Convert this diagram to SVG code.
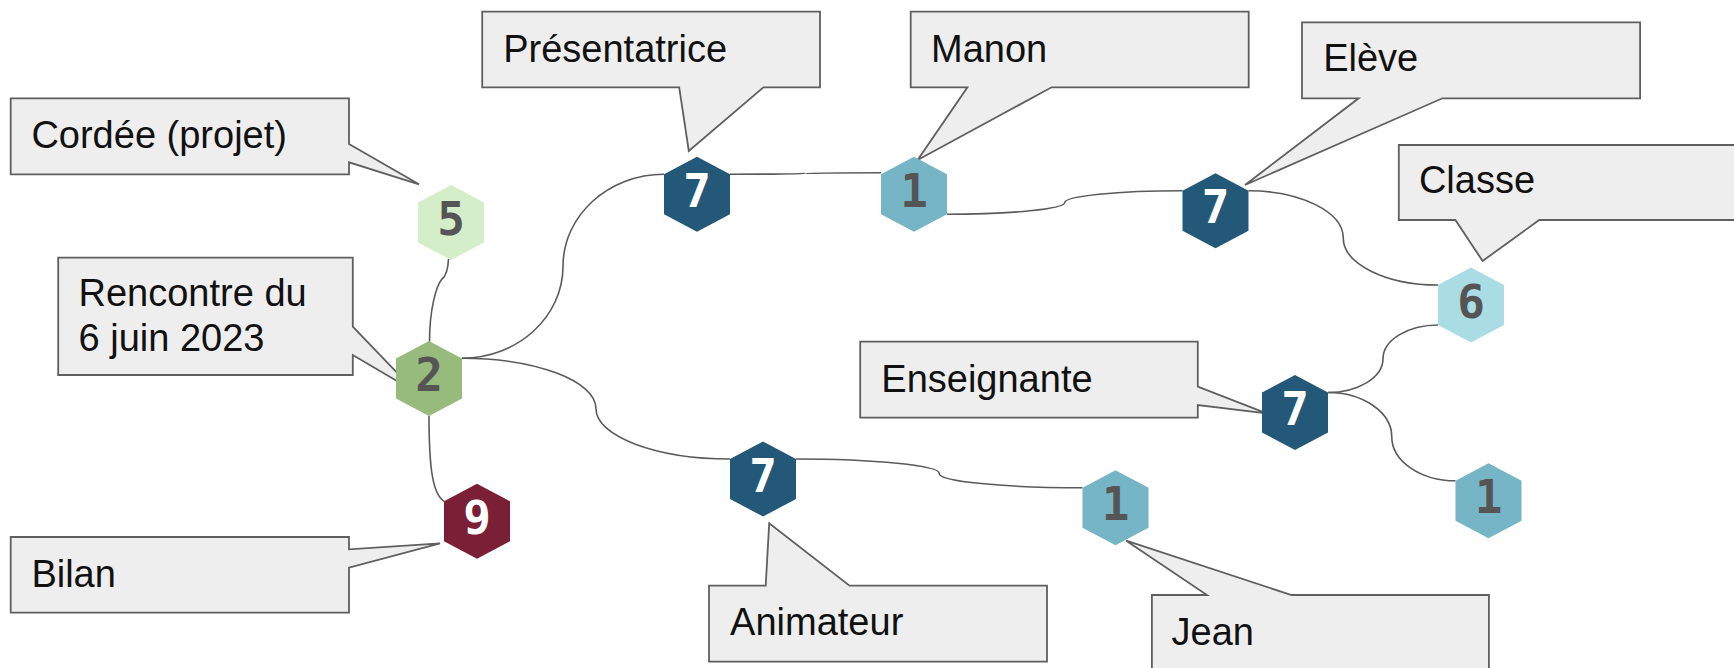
<svg xmlns="http://www.w3.org/2000/svg" xmlns:xlink="http://www.w3.org/1999/xlink" width="1734" height="668" viewBox="0 0 1734 668">
<style>
.callout{fill:#eeeeee;stroke:#5f5f5f;stroke-width:1.8;stroke-linejoin:miter}
.lbl{font-family:"Liberation Sans",Arial,sans-serif;font-size:38px;fill:#111111}
.conn{fill:none;stroke:#5a5a5a;stroke-width:1.6}
.num{font-family:"DejaVu Sans Mono","Liberation Mono",monospace;font-weight:bold;font-size:46px;text-anchor:middle}
.dk{fill:#ffffff}
.lt{fill:#555555}
</style>
<defs>
<polygon id="hex" points="0,-37.5 33,-20 33,20 0,37.5 -33,20 -33,-20"/>
</defs>
<rect width="1734" height="668" fill="#ffffff"/>

<g id="connectors">
<path class="conn" d="M448.5,259 C448,270 446,276 442,279 C436,286 429.5,310 429.5,342"/>
<path class="conn" d="M462,358.3 C517.6,358.3 563,316.9 563,266.3 C563,215.6 608.4,174.2 664,174.2"/>
<path class="conn" d="M462,358.3 C535.7,358.3 596,381 596,408.7 C596,436.3 656.3,459 730,459"/>
<path class="conn" d="M429,415.8 C429,470 433,494 444,501.3"/>
<path class="conn" d="M730,174.2 C771.5,174.2 805.5,173.9 805.5,173.45 C805.5,173 839.5,172.7 881,172.7"/>
<path class="conn" d="M947,214.2 C1011.8,214.2 1064.75,208.9 1064.75,202.5 C1064.75,196.1 1117.7,190.8 1182.5,190.8"/>
<path class="conn" d="M1248.5,190.8 C1300.6,190.8 1343.25,212 1343.25,237.9 C1343.25,263.8 1385.9,285 1438,285"/>
<path class="conn" d="M1438,325 C1407.75,325 1383,340.2 1383,358.75 C1383,377.3 1358.25,392.5 1328,392.5"/>
<path class="conn" d="M1328,392.5 C1363.1,392.5 1391.75,412.4 1391.75,436.65 C1391.75,460.9 1420.4,480.8 1455.5,480.8"/>
<path class="conn" d="M796,459 C875,459 939.25,465.5 939.25,473.4 C939.25,481.3 1003.5,487.8 1082.5,487.8"/>
</g>

<g id="callout-cordee">
<path class="callout" d="M10.7,98.3 H349 V144 L419,184.3 L349,162.3 V174.3 H10.7 Z"/>
<text class="lbl" x="31.4" y="148.3">Cordée (projet)</text>
</g>
<g id="callout-rencontre">
<path class="callout" d="M58.2,257.7 H352.8 V326.7 L415.2,391.7 L352.8,355 V375 H58.2 Z"/>
<text class="lbl" x="78.5" y="306">Rencontre du</text>
<text class="lbl" x="78.5" y="350.7">6 juin 2023</text>
</g>
<g id="callout-bilan">
<path class="callout" d="M10.7,537 H349 V549.3 L440.1,543.3 L349,567.7 V612.7 H10.7 Z"/>
<text class="lbl" x="31.4" y="586.7">Bilan</text>
</g>
<g id="callout-presentatrice">
<path class="callout" d="M482.2,11.7 H820 V87.3 H763.4 L688.8,151 L679.2,87.3 H482.2 Z"/>
<text class="lbl" x="503.2" y="61.7">Présentatrice</text>
</g>
<g id="callout-manon">
<path class="callout" d="M910.7,11.7 H1248.7 V87.3 H1051.6 L917.6,160 L967.4,87.3 H910.7 Z"/>
<text class="lbl" x="931" y="61.7">Manon</text>
</g>
<g id="callout-eleve">
<path class="callout" d="M1302,22.3 H1640.1 V98.3 H1442.4 L1245,185 L1358.6,98.3 H1302 Z"/>
<text class="lbl" x="1323.2" y="71">Elève</text>
</g>
<g id="callout-classe">
<path class="callout" d="M1398.8,145 H1740 V220 H1539.2 L1482.6,261 L1455.4,220 H1398.8 Z"/>
<text class="lbl" x="1418.9" y="193.3">Classe</text>
</g>
<g id="callout-enseignante">
<path class="callout" d="M860.2,341.7 H1197.8 V386.7 L1266.6,413.3 L1197.8,405 V417.7 H860.2 Z"/>
<text class="lbl" x="881.3" y="391.7">Enseignante</text>
</g>
<g id="callout-animateur">
<path class="callout" d="M709,585.7 H765.7 L769.2,523.3 L849.5,585.7 H1047 V661.7 H709 Z"/>
<text class="lbl" x="730.1" y="635">Animateur</text>
</g>
<g id="callout-jean">
<path class="callout" d="M1151.9,595 H1207 L1126.2,540.7 L1291.5,595 H1488.9 V680 H1151.9 Z"/>
<text class="lbl" x="1171.6" y="645">Jean</text>
</g>

<g id="node-5"><use xlink:href="#hex" href="#hex" x="451" y="222.5" fill="#d5eeca"/><text class="num lt" x="451" y="235">5</text></g>
<g id="node-2"><use xlink:href="#hex" href="#hex" x="429" y="378.5" fill="#97bb7c"/><text class="num lt" x="429" y="391">2</text></g>
<g id="node-9"><use xlink:href="#hex" href="#hex" x="477" y="521.3" fill="#7a1f35"/><text class="num dk" x="477" y="533.8">9</text></g>
<g id="node-7a"><use xlink:href="#hex" href="#hex" x="697" y="194.2" fill="#235878"/><text class="num dk" x="697" y="206.7">7</text></g>
<g id="node-1a"><use xlink:href="#hex" href="#hex" x="914" y="194.2" fill="#76b5c6"/><text class="num lt" x="914" y="206.7">1</text></g>
<g id="node-7b"><use xlink:href="#hex" href="#hex" x="1215.5" y="210.8" fill="#235878"/><text class="num dk" x="1215.5" y="223.3">7</text></g>
<g id="node-6"><use xlink:href="#hex" href="#hex" x="1471" y="305" fill="#a9dce3"/><text class="num lt" x="1471" y="317.5">6</text></g>
<g id="node-7c"><use xlink:href="#hex" href="#hex" x="1295" y="412.5" fill="#235878"/><text class="num dk" x="1295" y="425">7</text></g>
<g id="node-1c"><use xlink:href="#hex" href="#hex" x="1488.5" y="500.8" fill="#76b5c6"/><text class="num lt" x="1488.5" y="513.3">1</text></g>
<g id="node-7d"><use xlink:href="#hex" href="#hex" x="763" y="479" fill="#235878"/><text class="num dk" x="763" y="491.5">7</text></g>
<g id="node-1b"><use xlink:href="#hex" href="#hex" x="1115.5" y="507.8" fill="#76b5c6"/><text class="num lt" x="1115.5" y="520.3">1</text></g>
</svg>
